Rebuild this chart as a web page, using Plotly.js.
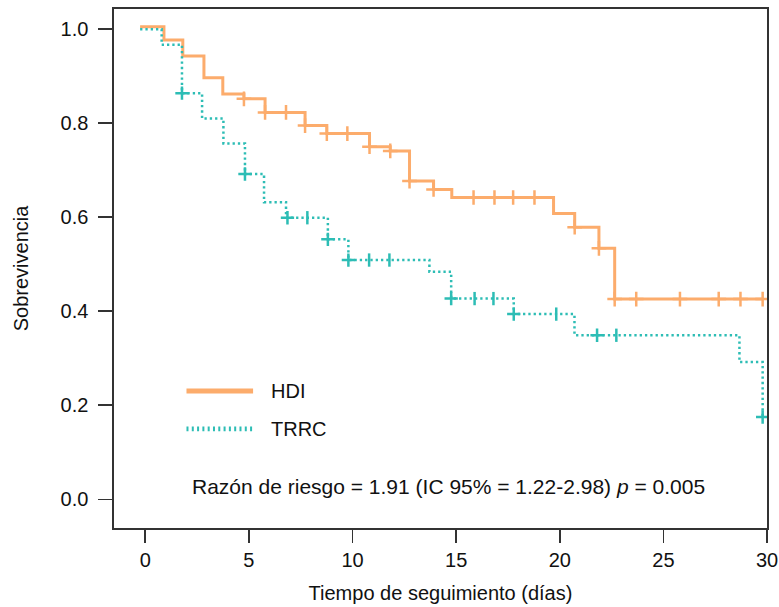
<!DOCTYPE html>
<html>
<head>
<meta charset="utf-8">
<script src="https://cdn.plot.ly/plotly-3.0.1.min.js"></script>
<style>html,body{margin:0;padding:0;background:#fff;}#chart{width:779px;height:607px;}</style>
</head>
<body>
<div id="chart"></div>
<script>
// ---- Data ----
// HDI step curve: time of each drop and survival after it
const hdiTimes = [-0.25, 0.90, 1.81, 2.83, 3.74, 4.76, 5.78, 7.71, 8.76, 10.82, 11.82, 12.75, 13.91, 14.79, 19.70, 20.72, 21.89, 22.65, 29.79];
const hdiSurv  = [1.005, 0.977, 0.943, 0.897, 0.862, 0.852, 0.823, 0.795, 0.778, 0.750, 0.741, 0.677, 0.659, 0.642, 0.608, 0.579, 0.534, 0.426, 0.426];
// HDI censoring marks
const hdiCensT = [4.76, 5.78, 6.79, 7.71, 8.76, 9.75, 10.82, 11.82, 12.75, 13.91, 15.84, 16.85, 17.75, 18.78, 20.72, 21.89, 22.65, 23.69, 25.80, 27.67, 28.72, 29.79];
const hdiCensS = [0.852, 0.823, 0.823, 0.795, 0.778, 0.778, 0.750, 0.741, 0.677, 0.659, 0.642, 0.642, 0.642, 0.642, 0.579, 0.534, 0.426, 0.426, 0.426, 0.426, 0.426, 0.426];

// TRRC step curve
const trrcTimes = [-0.25, 0.79, 1.77, 2.74, 3.77, 4.81, 5.73, 6.79, 8.81, 9.80, 13.71, 14.76, 17.78, 20.71, 28.67, 29.79];
const trrcSurv  = [1.000, 0.967, 0.864, 0.810, 0.757, 0.692, 0.632, 0.599, 0.553, 0.509, 0.484, 0.427, 0.394, 0.349, 0.292, 0.175];
// TRRC censoring marks drawn as crosses
const trrcCrossT = [1.77, 4.81, 6.86, 8.81, 9.80, 14.76, 17.78, 21.80, 29.79];
const trrcCrossS = [0.864, 0.692, 0.599, 0.553, 0.509, 0.427, 0.394, 0.349, 0.175];
// TRRC censoring marks drawn as vertical ticks
const trrcTickT = [7.82, 10.80, 11.78, 15.89, 16.80, 19.83, 22.73];
const trrcTickS = [0.599, 0.509, 0.509, 0.427, 0.427, 0.394, 0.349];

const seriesNames = ["HDI", "TRRC"];
const xTicks = [0, 5, 10, 15, 20, 25, 30];
const yTicks = [0, 0.2, 0.4, 0.6, 0.8, 1.0];
const yTickText = ["0.0", "0.2", "0.4", "0.6", "0.8", "1.0"];
const noteText = "Razón de riesgo = 1.91 (IC 95% = 1.22-2.98) <i>p</i> = 0.005";

const ORANGE = "#FCAC6C";
const TEAL = "#2DBDB5";
const FONT = "Liberation Sans, Arial, sans-serif";

const traces = [
  {x: hdiTimes, y: hdiSurv, mode: "lines", line: {shape: "hv", color: ORANGE, width: 3}, name: seriesNames[0], hoverinfo: "skip"},
  {x: trrcTimes, y: trrcSurv, mode: "lines", line: {shape: "hv", color: TEAL, width: 2.5, dash: "2.3px,3px"}, name: seriesNames[1], hoverinfo: "skip"},
  {x: hdiCensT, y: hdiCensS, mode: "markers", marker: {symbol: "cross-thin", size: 10.5, line: {color: ORANGE, width: 2.5}}, hoverinfo: "skip"},
  {x: trrcCrossT, y: trrcCrossS, mode: "markers", marker: {symbol: "cross-thin", size: 9.5, line: {color: TEAL, width: 2.5}}, hoverinfo: "skip"},
  {x: trrcTickT, y: trrcTickS, mode: "markers", marker: {symbol: "line-ns", size: 9.5, line: {color: TEAL, width: 2.5}}, hoverinfo: "skip"}
];

const layout = {
  width: 779, height: 607,
  margin: {l: 114, r: 12, t: 9, b: 79},
  paper_bgcolor: "#fff", plot_bgcolor: "#fff",
  showlegend: false,
  font: {family: FONT, size: 20, color: "#111"},
  xaxis: {
    range: [-1.51, 30], tickvals: xTicks, ticks: "outside", ticklen: 13, tickwidth: 1.6, tickcolor: "#333",
    showline: true, linecolor: "#333", linewidth: 1.6, mirror: true, showgrid: false, zeroline: false,
    tickfont: {family: FONT, size: 20, color: "#111"},
    title: {text: "Tiempo de seguimiento (días)", font: {family: FONT, size: 20, color: "#111"}, standoff: 16}
  },
  yaxis: {
    range: [-0.061, 1.043], tickvals: yTicks, ticktext: yTickText, ticks: "outside", ticklen: 14, tickwidth: 1.6, tickcolor: "#333",
    showline: true, linecolor: "#333", linewidth: 1.6, mirror: true, showgrid: false, zeroline: false,
    ticklabelstandoff: 6,
    tickfont: {family: FONT, size: 20, color: "#111"},
    title: {text: "Sobrevivencia", font: {family: FONT, size: 20, color: "#111"}, standoff: 26}
  },
  shapes: [
    {type: "line", xref: "paper", yref: "paper", x0: 0.111, x1: 0.213, y0: 0.264, y1: 0.264, line: {color: ORANGE, width: 5}},
    {type: "line", xref: "paper", yref: "paper", x0: 0.111, x1: 0.213, y0: 0.191, y1: 0.191, line: {color: TEAL, width: 4.7, dash: "2px,3.3px"}}
  ],
  annotations: [
    {xref: "paper", yref: "paper", x: 0.237, y: 0.264, xanchor: "left", yanchor: "middle", text: seriesNames[0], showarrow: false, font: {family: FONT, size: 20, color: "#111"}},
    {xref: "paper", yref: "paper", x: 0.237, y: 0.191, xanchor: "left", yanchor: "middle", text: seriesNames[1], showarrow: false, font: {family: FONT, size: 20, color: "#111"}},
    {xref: "paper", yref: "paper", x: 0.512, y: 0.080, xanchor: "center", yanchor: "middle", text: noteText, showarrow: false, font: {family: FONT, size: 21, color: "#111"}}
  ]
};

Plotly.newPlot("chart", traces, layout, {staticPlot: true, displayModeBar: false});
</script>
</body>
</html>
